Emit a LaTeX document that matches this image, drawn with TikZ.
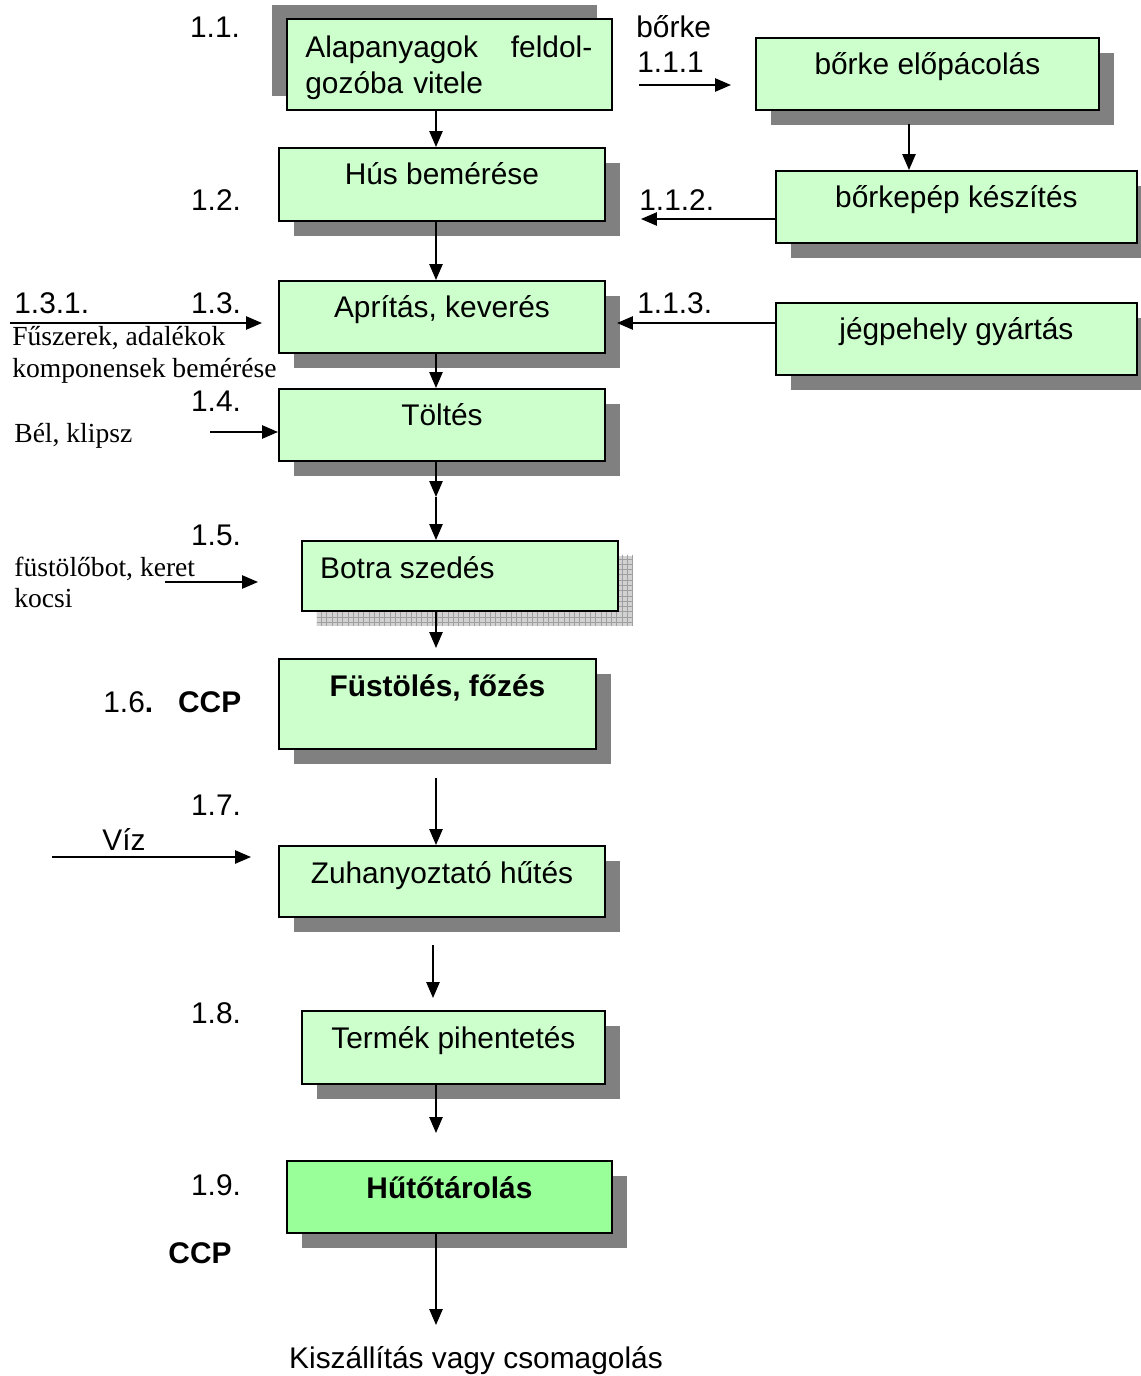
\documentclass[tikz,border=0pt]{standalone}
\usepackage{fontspec}
\setmainfont{Liberation Sans}
\newfontfamily\timesfont{Liberation Serif}
\usetikzlibrary{arrows.meta,shadows,patterns}

\definecolor{boxgreen}{RGB}{204,255,204}
\definecolor{storegreen}{RGB}{153,255,153}
\definecolor{shadowgray}{RGB}{128,128,128}

\newcommand{\boxfont}{\fontsize{17pt}{20pt}\selectfont}
\newcommand{\notefont}{\timesfont\fontsize{15.7pt}{18.2pt}\selectfont}

\tikzset{
  stepplain/.style={draw=black, line width=1.1pt, fill=boxgreen, inner sep=0pt, anchor=north west},
  stepbox/.style={stepplain, drop shadow={shadow xshift=0.3cm, shadow yshift=-0.3cm, fill=shadowgray, opacity=1}},
  steplabel/.style={anchor=base, yshift=-0.76cm},
  flow/.style={-{Triangle[length=9pt,width=7.5pt]}, line width=0.9pt},
  num/.style={anchor=base, inner sep=0pt},
  note/.style={anchor=base west, inner sep=0pt, font=\notefont},
}

\begin{document}
\begin{tikzpicture}[x=0.02cm, y=-0.02cm, font=\boxfont]
  \useasboundingbox (0,0) rectangle (1140,1376);
  \coordinate (spine) at (436,0);
  \coordinate (rspine) at (909,0);

  % main column
  \node[stepplain, minimum width=6.5cm, minimum height=1.82cm,
        drop shadow={shadow xshift=-0.3cm, shadow yshift=0.28cm, fill=shadowgray, opacity=1}] (alap) at (286,18) {};
  \node[anchor=north west, inner sep=0pt, text width=5.74cm, align=left] (alaptext) at (305,36)
        {\makebox[5.74cm][l]{Alapanyagok\hfill feldol-}\\gozóba vitele};
  \node[stepbox, minimum width=6.52cm, minimum height=1.46cm, label={[steplabel]north:Hús bemérése}] (hus) at (278,147) {};
  \node[stepbox, minimum width=6.52cm, minimum height=1.44cm, label={[steplabel]north:Aprítás, keverés}] (apr) at (278,280) {};
  \node[stepbox, minimum width=6.52cm, minimum height=1.44cm, label={[steplabel]north:Töltés}] (tolt) at (278,388) {};
  \node[stepplain, minimum width=6.32cm, minimum height=1.40cm,
        general shadow={shadow xshift=0.3cm, shadow yshift=-0.3cm, fill=gray!35},
        general shadow={shadow xshift=0.3cm, shadow yshift=-0.3cm, pattern=grid, pattern color=gray!75},
        label={[steplabel, anchor=base west, xshift=0.26cm]north west:Botra szedés}] (botra) at (301,540) {};
  \node[stepbox, minimum width=6.34cm, minimum height=1.80cm,
        label={[steplabel, font=\boxfont\bfseries]north:Füstölés, főzés}] (fust) at (278,658) {};
  \node[stepbox, minimum width=6.52cm, minimum height=1.42cm, label={[steplabel]north:Zuhanyoztató hűtés}] (zuh) at (278,845) {};
  \node[stepbox, minimum width=6.06cm, minimum height=1.46cm, label={[steplabel]north:Termék pihentetés}] (term) at (301,1010) {};
  \node[stepbox, fill=storegreen, minimum width=6.5cm, minimum height=1.44cm,
        label={[steplabel, font=\boxfont\bfseries]north:Hűtőtárolás}] (huto) at (286,1160) {};

  % side column
  \node[stepbox, minimum width=6.86cm, minimum height=1.44cm, label={[steplabel]north:bőrke előpácolás}] (elop) at (755,37) {};
  \node[stepbox, minimum width=7.22cm, minimum height=1.44cm, label={[steplabel]north:bőrkepép készítés}] (pep) at (775,170) {};
  \node[stepbox, minimum width=7.22cm, minimum height=1.44cm, label={[steplabel]north:jégpehely gyártás}] (jeg) at (775,302) {};

  % numbers and notes
  \node[num] (n11) at (215,37) {1.1.};
  \node[num] (n12) at (216,210) {1.2.};
  \node[num, anchor=base west] (n131) at (14,313) {1.3.1.};
  \node[num] (n13) at (216,313) {1.3.};
  \node[note] (fusz) at (12,345) {Fűszerek, adalékok};
  \node[note] (komp) at (12,377) {komponensek bemérése};
  \node[num] (n14) at (216,411) {1.4.};
  \node[note] (bel) at (14,442) {Bél, klipsz};
  \node[num] (n15) at (216,545) {1.5.};
  \node[note] (bot) at (14,576) {füstölőbot, keret};
  \node[note] (kocsi) at (14,607) {kocsi};
  \node[num, anchor=base west] (n16) at (103,712) {1.6\textbf{.}\hspace{0.5cm}\textbf{CCP}};
  \node[num] (n17) at (216,815) {1.7.};
  \node[num] (viz) at (124,850) {Víz};
  \node[num] (n18) at (216,1023) {1.8.};
  \node[num] (n19) at (216,1195) {1.9.};
  \node[num, font=\boxfont\bfseries] (ccp) at (200,1263) {CCP};
  \node[num] (kisz) at (476,1368) {Kiszállítás vagy csomagolás};
  \node[num, anchor=base west] (borke) at (636,37) {bőrke};
  \node[num, anchor=base west] (n111) at (637,72) {1.1.1};
  \node[num, anchor=base west] (n112) at (639,210) {1.1.2.};
  \node[num, anchor=base west] (n113) at (637,313) {1.1.3.};

  % free ends
  \coordinate (mid4) at (436,497);
  \coordinate (tip5) at (436,648);
  \coordinate (start6) at (436,778);
  \coordinate (start7) at (433,945);
  \coordinate (tip7) at (433,998);
  \coordinate (tip8) at (436,1133);
  \coordinate (tip9) at (436,1325);
  \coordinate (in1) at (639,85);
  \coordinate (tip1) at (731,85);
  \coordinate (elopout) at (909,124);
  \coordinate (tip2) at (641,219);
  \coordinate (tip3) at (617,323);
  \coordinate (fuszin) at (10,323);
  \coordinate (fusztip) at (262,323);
  \coordinate (belin) at (210,432);
  \coordinate (botin) at (165,582);
  \coordinate (bottip) at (258,582);
  \coordinate (vizin) at (52,857);
  \coordinate (viztip) at (251,857);

  \draw[flow] (alap.south -| spine) -- (hus.north -| spine);
  \draw[flow] (hus.south -| spine) -- (apr.north -| spine);
  \draw[flow] (apr.south -| spine) -- (tolt.north -| spine);
  \draw[flow] (tolt.south -| spine) -- (mid4);
  \draw[flow] (mid4) -- (botra.north -| spine);
  \draw[flow] (botra.south -| spine) -- (tip5);
  \draw[flow] (start6) -- (zuh.north -| spine);
  \draw[flow] (start7) -- (tip7);
  \draw[flow] (term.south -| spine) -- (tip8);
  \draw[flow] (huto.south -| spine) -- (tip9);

  \draw[flow] (in1) -- (tip1);
  \draw[flow] (elopout) -- (pep.north -| rspine);
  \draw[flow] (pep.west |- tip2) -- (tip2);
  \draw[flow] (jeg.west |- tip3) -- (tip3);

  \draw[flow] (fuszin) -- (fusztip);
  \draw[flow] (belin) -- (tolt.west |- belin);
  \draw[flow] (botin) -- (bottip);
  \draw[flow] (vizin) -- (viztip);

\end{tikzpicture}
\end{document}
